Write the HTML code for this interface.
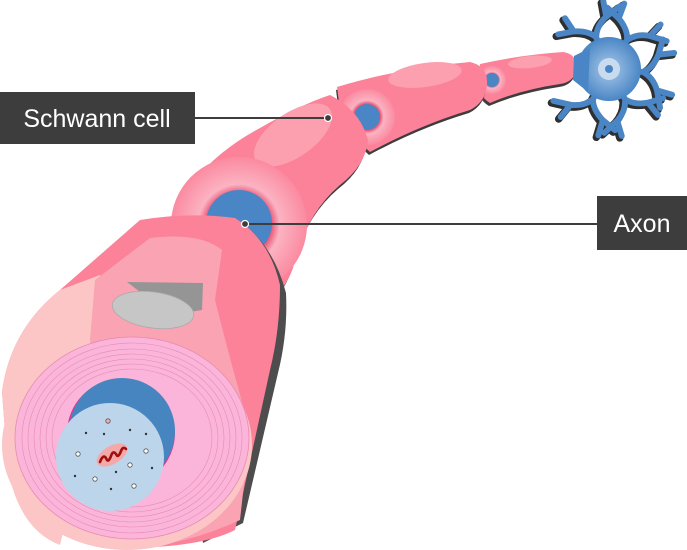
<!DOCTYPE html>
<html><head><meta charset="utf-8"><style>
html,body{margin:0;padding:0;background:#fff;}
svg{display:block;}
text{font-family:"Liberation Sans",sans-serif;}
</style></head><body>
<svg width="687" height="550" viewBox="0 0 687 550" xmlns="http://www.w3.org/2000/svg">
<defs>
<radialGradient id="ring" cx="50%" cy="50%" r="50%">
<stop offset="0.42" stop-color="#e0305a"/>
<stop offset="0.6" stop-color="#fbb3c2"/>
<stop offset="1" stop-color="#fb8aa0"/>
</radialGradient>
<radialGradient id="soma" cx="50%" cy="50%" r="50%">
<stop offset="0" stop-color="#a9c9ea"/>
<stop offset="1" stop-color="#4a86c5"/>
</radialGradient>
<g id="br">
<path d="M0 0 L22 0 M22 0 Q28 -3 31 -12 L33 -22 M31 -12 L41 -14 M22 0 Q29 3 32 11 L42 13 M32 11 L35 22" fill="none" stroke-linecap="round"/>
</g>
</defs>

<path d="M480 64 Q520 55 563 52 Q578 54 576 70 Q574 82 560 84 Q520 90 490 103 Q478 96 478 80 Z" fill="#3d3d3d" transform="translate(-1,3)"/>
<path d="M480 64 Q520 55 563 52 Q578 54 576 70 Q574 82 560 84 Q520 90 490 103 Q478 96 478 80 Z" fill="#fb8299"/>
<ellipse cx="530" cy="62" rx="22" ry="6" fill="#fca0b0" transform="rotate(-6 530 62)"/>
<circle cx="492" cy="80" r="14" fill="url(#ring)"/>
<circle cx="492" cy="80" r="7" fill="#4a86c5"/>

<path d="M337 87 Q400 68 470 62 Q488 66 487 84 Q486 102 470 110 Q420 125 370 152 Q350 135 340 110 Z" fill="#3d3d3d" transform="translate(-1,3)"/>
<path d="M337 87 Q400 68 470 62 Q488 66 487 84 Q486 102 470 110 Q420 125 370 152 Q350 135 340 110 Z" fill="#fb8299"/>
<ellipse cx="425" cy="75" rx="37" ry="12" fill="#fca0b0" transform="rotate(-8 425 75)"/>
<circle cx="367" cy="117" r="28" fill="url(#ring)"/>
<circle cx="367" cy="117" r="13" fill="#4a86c5"/>

<path d="M173 213 Q200 160 260 128 Q300 105 330 95 Q360 110 368 140 Q366 165 340 185 Q305 215 293 268 Q285 290 270 300 L200 260 Z" fill="#3d3d3d" transform="translate(-2,4)"/>
<path d="M173 213 Q200 160 260 128 Q300 105 330 95 Q360 110 368 140 Q366 165 340 185 Q305 215 293 268 Q285 290 270 300 L200 260 Z" fill="#fb8299"/>
<ellipse cx="293" cy="135" rx="45" ry="22" fill="#fca0b0" transform="rotate(-35 293 135)"/>
<circle cx="239" cy="225" r="68" fill="url(#ring)"/>
<circle cx="239" cy="223" r="33" fill="#4a86c5"/>

<path d="M140 220 L235 218 Q270 240 283 290 Q285 330 275 370 L240 520 L200 540 Z" fill="#4d4d4d" transform="translate(3,3)"/>
<path d="M2 392 Q10 330 60 290 L140 220 Q190 212 235 218 Q270 240 280 285 Q280 330 270 370 L235 530 Q200 548 120 548 Q30 540 8 470 Z" fill="#fb8299"/>
<path d="M2 392 Q10 330 60 290 L100 275 Q110 300 110 340 L60 545 Q20 530 8 470 Z" fill="#fcc5c6"/>
<path d="M95 280 L150 238 Q200 232 222 250 L215 300 Q230 360 250 430 L240 520 Q180 548 120 548 L90 340 Z" fill="#f9a3b3"/>
<ellipse cx="127" cy="445" rx="125" ry="105" fill="#fcc5c6"/>
<ellipse cx="132" cy="438" rx="117" ry="101" fill="#fbb5da" stroke="#e78cb0" stroke-width="0.8"/>
<g fill="none" stroke="#e78cb0" stroke-width="0.6">
<ellipse cx="132" cy="438" rx="110" ry="95"/>
<ellipse cx="132" cy="438" rx="104" ry="89"/>
<ellipse cx="132" cy="438" rx="98" ry="84"/>
<ellipse cx="132" cy="438" rx="92" ry="79"/>
<ellipse cx="132" cy="438" rx="86" ry="74"/>
<ellipse cx="132" cy="438" rx="80" ry="69"/>
</g>
<circle cx="121" cy="433" r="54" fill="#e5348b"/>
<circle cx="122" cy="431" r="53" fill="#4685c0"/>
<circle cx="110" cy="457" r="54" fill="#bdd5ea"/>
<ellipse cx="112" cy="455" rx="17" ry="9" fill="#f4a8a8" transform="rotate(-30 112 455)"/>
<path d="M100 462 q3 -8 6 -4 q2 6 5 -2 q2 -6 5 -2 q2 5 5 -3 q2 -5 5 -2" fill="none" stroke="#a01010" stroke-width="2.6" stroke-linecap="round"/>
<g fill="#fff" stroke="#555" stroke-width="0.8">
<circle cx="108" cy="421" r="2.2" fill="#f4b0b8"/><circle cx="78" cy="454" r="2.2"/><circle cx="146" cy="451" r="2.2"/><circle cx="130" cy="465" r="2.2"/><circle cx="95" cy="479" r="2.2"/><circle cx="134" cy="486" r="2.2"/>
</g>
<g fill="#333">
<circle cx="86" cy="433" r="1.2"/><circle cx="104" cy="434" r="1.2"/><circle cx="130" cy="430" r="1.2"/><circle cx="146" cy="434" r="1.2"/><circle cx="152" cy="468" r="1.2"/><circle cx="116" cy="472" r="1.2"/><circle cx="75" cy="476" r="1.2"/><circle cx="111" cy="489" r="1.2"/>
</g>
<path d="M127 282 L203 283 L202 310 L170 315 Z" fill="#959595"/>
<ellipse cx="153" cy="310" rx="41" ry="18" fill="#c6c6c6" stroke="#aaa" stroke-width="0.8" transform="rotate(8 153 310)"/>

<g transform="translate(609,69)" stroke-width="4.8" stroke="#2f2f2f">
<g transform="translate(-2,2)">
<use href="#br" transform="rotate(-112) scale(1.55)"/><use href="#br" transform="rotate(-58) scale(1.55)"/><use href="#br" transform="rotate(5) scale(1.55)"/><use href="#br" transform="rotate(62) scale(1.55)"/><use href="#br" transform="rotate(118) scale(1.55)"/>
</g>
</g>
<g transform="translate(609,69)" stroke-width="3.8" stroke="#4a86c5">
<use href="#br" transform="rotate(-112) scale(1.55)"/><use href="#br" transform="rotate(-58) scale(1.55)"/><use href="#br" transform="rotate(5) scale(1.55)"/><use href="#br" transform="rotate(62) scale(1.55)"/><use href="#br" transform="rotate(118) scale(1.55)"/>
</g>
<circle cx="609" cy="69" r="32" fill="url(#soma)"/>
<path d="M574 56 L590 48 L588 92 L573 80 Z" fill="#4a86c5"/>
<circle cx="609" cy="69" r="11" fill="#c9dcef"/>
<circle cx="609" cy="69" r="4" fill="#4a86c5"/>

<line x1="195" y1="118" x2="328" y2="118" stroke="#3d3d3d" stroke-width="2"/>
<circle cx="328" cy="118" r="3.5" fill="#3d3d3d" stroke="#fff" stroke-width="1.2"/>
<rect x="0" y="92" width="195" height="52" fill="#3d3d3d"/>
<text x="97" y="127" font-size="25" fill="#fff" text-anchor="middle">Schwann cell</text>
<line x1="245" y1="224" x2="597" y2="224" stroke="#3d3d3d" stroke-width="2"/>
<circle cx="245" cy="224" r="3.5" fill="#3d3d3d" stroke="#fff" stroke-width="1.2"/>
<rect x="597" y="196" width="90" height="54" fill="#3d3d3d"/>
<text x="642" y="232" font-size="25" fill="#fff" text-anchor="middle">Axon</text>
</svg>
</body></html>
